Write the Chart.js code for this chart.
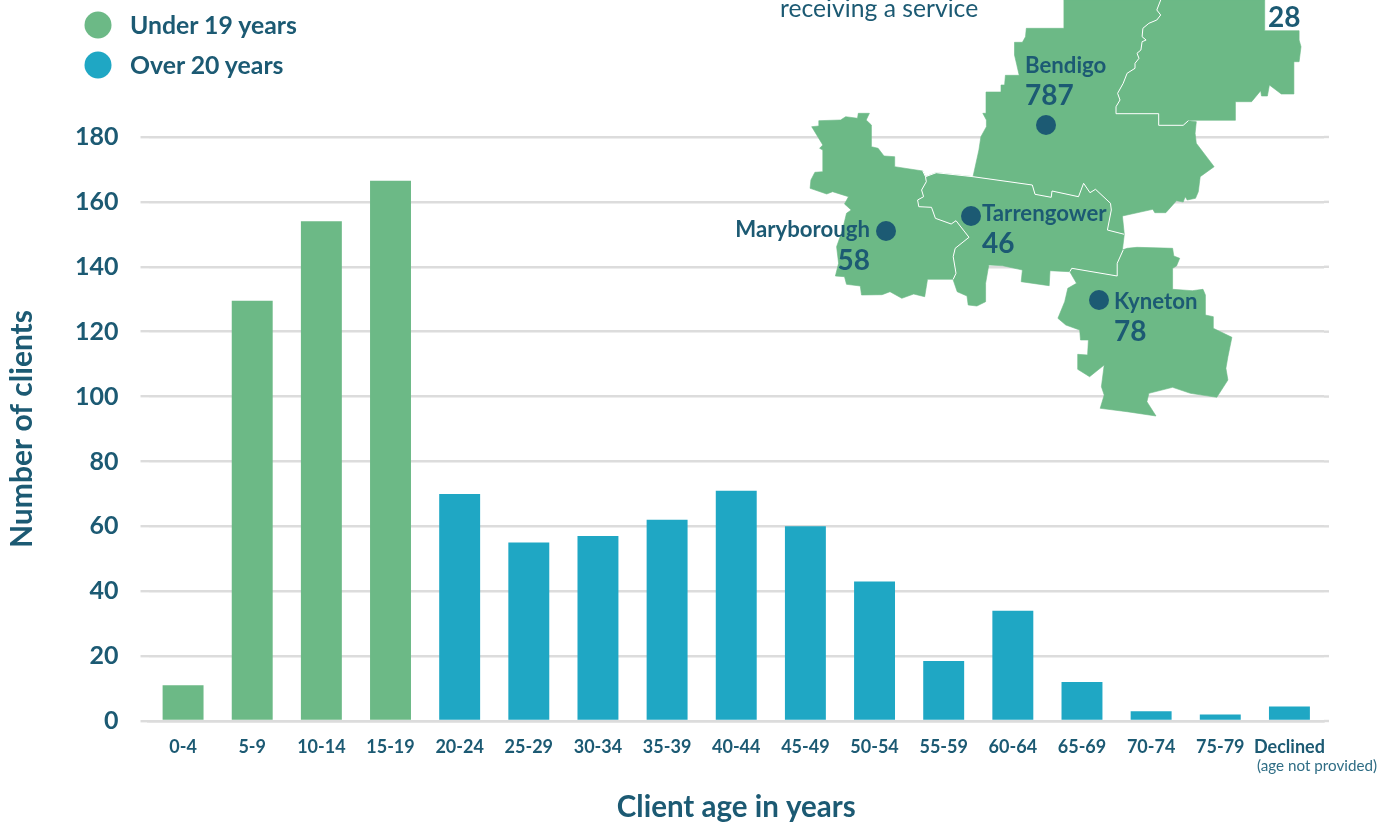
<!DOCTYPE html>
<html>
<head>
<meta charset="utf-8">
<script src="https://cdn.jsdelivr.net/npm/chart.js@4"></script>
<style>
html,body{margin:0;padding:0;background:#fff;overflow:hidden}
#wrap{position:relative;width:1394px;height:825px}
#c{position:absolute;left:0;top:0}
#overlay{position:absolute;left:0;top:0;pointer-events:none}
text{font-family:Lato,sans-serif;fill:#1c5a73}
</style>
</head>
<body>
<div id="wrap">
<canvas id="c" width="1394" height="825"></canvas>
<svg id="overlay" width="1394" height="825" viewBox="0 0 1394 825"></svg>
</div>
<script>
const categories = ['0-4','5-9','10-14','15-19','20-24','25-29','30-34','35-39','40-44','45-49','50-54','55-59','60-64','65-69','70-74','75-79','Declined'];
const under19Values = [11,129.5,154,166.5,null,null,null,null,null,null,null,null,null,null,null,null,null];
const over20Values = [null,null,null,null,70,55,57,62,71,60,43,18.5,34,12,3,2,4.5];
const seriesNames = ['Under 19 years','Over 20 years'];
const seriesColors = ['#6cb986','#1fa7c4'];
const yAxisTitle = 'Number of clients';
const xAxisTitle = 'Client age in years';
const ink = '#1c5a73';
const gridColor = '#dcdcdc';
const fontFamily = 'Lato, sans-serif';

// Map of service regions (decoration over the plot), traced outlines.
const mapShapes = [
 '870,0 870,85 775,85 773,110 765,127 745,127 745,165 757,226 722,226 720,255 711,255 711,276 673,276 673,340 665,340 674,360 674,380 660,410 655,450 640,530 790,555 797,583 838,592 840,573 907,590 920,550 936,578 950,568 988,610 990,630 980,690 1023,703 1018,648 1095,628 1100,638 1128,638 1155,602 1172,606 1177,590 1182,600 1203,595 1210,575 1215,530 1250,500 1205,430 1202,400 1205,365 1185,362 1172,376 1110,376 1110,341 1002,341 1002,320 1012,300 1006,280 1020,250 1030,220 1050,205 1050,190 1060,175 1055,160 1065,150 1068,125 1078,120 1068,110 1070,85 1085,70 1105,60 1115,45 1105,30 1115,0',
 '1115,0 1378,0 1378,92 1465,92 1465,120 1470,140 1465,185 1452,185 1452,282 1420,282 1390,255 1385,288 1370,288 1368,272 1345,305 1304,305 1304,361 1185,361 1172,376 1110,376 1110,341 1002,341 1002,320 1012,300 1006,280 1020,250 1030,220 1050,205 1050,190 1060,175 1055,160 1065,150 1068,125 1078,120 1068,110 1070,85 1085,70 1105,60 1115,45 1105,30',
 '350,340 378,340 370,360 383,375 383,440 400,445 415,468 442,470 442,500 513,513 520,530 522,545 510,570 515,590 500,600 503,620 535,622 545,655 585,672 597,662 630,712 595,745 590,770 597,820 590,838 525,838 518,890 490,882 460,895 430,875 410,884 358,885 355,858 320,853 315,830 292,828 300,790 295,740 310,690 320,640 332,630 315,612 325,590 285,575 270,582 228,565 230,540 240,517 260,515 260,450 252,445 260,435 232,380 250,378 250,362 305,360 318,350 348,355',
 '520,530 547,518 640,530 790,555 797,583 838,592 840,573 907,590 920,550 936,578 950,568 988,610 990,630 980,690 1023,703 1018,750 1005,790 1005,828 890,805 885,815 835,812 833,857 762,845 765,810 715,797 680,795 672,850 672,905 650,918 628,915 625,888 600,875 590,840 597,820 590,770 595,745 630,712 597,662 585,672 545,655 535,622 503,620 500,600 515,590 510,570 522,545',
 '1055,742 1145,745 1148,768 1163,775 1155,798 1145,805 1145,868 1195,872 1222,868 1228,885 1228,945 1248,950 1248,985 1295,1012 1285,1070 1280,1105 1285,1140 1257,1192 1190,1180 1145,1162 1085,1180 1080,1205 1103,1248 1030,1235 962,1225 972,1185 965,1160 972,1095 935,1130 905,1108 905,1063 930,1065 932,1020 912,1020 910,990 875,975 855,955 872,905 880,865 902,850 885,815 890,805 1005,828 1005,790 1018,750 1030,745'
];
const mapBorders = [
 '513,513 520,530 522,545 510,570 515,590 500,600 503,620 535,622 545,655 585,672 597,662 630,712 595,745 590,770 597,820 590,838',
 '520,530 547,518 640,530 790,555 797,583 838,592 840,573 907,590 920,550 936,578 950,568 988,610 990,630 980,690 1023,703',
 '1020,750 1005,790 1005,828 890,805 885,815',
 '1185,362 1172,376 1110,376 1110,341 1002,341 1002,320 1012,300 1006,280 1020,250 1030,220 1050,205 1050,190 1060,175 1055,160 1065,150 1068,125 1078,120 1068,110 1070,85 1085,70 1105,60 1115,45 1105,30 1115,0'
];
const regionNames = ['Bendigo','Maryborough','Tarrengower','Kyneton'];
const regionCounts = ['787','58','46','78'];
const regionNameAnchors = ['start','end','start','start'];
const regionNameX = [1025,870,982,1114];
const regionNameY = [73,237,221,309];
const regionCountX = [1025,870,982,1114];
const regionCountY = [105,270,253,341];
const regionDotX = [1046,886,971,1099];
const regionDotY = [125,231,216,300];

const SVGNS = 'http://www.w3.org/2000/svg';
const svg = document.getElementById('overlay');
function el(name, attrs, txt){
  const n = document.createElementNS(SVGNS, name);
  for (const k in attrs) n.setAttribute(k, attrs[k]);
  if (txt !== undefined) n.textContent = txt;
  svg.appendChild(n);
  return n;
}
function mapPts(s){
  return s.split(' ').map(p=>{const [x,y]=p.split(',').map(Number);return (720+x/2.53).toFixed(1)+','+(y/3).toFixed(1);}).join(' ');
}
mapShapes.forEach(s=>el('polygon',{points:mapPts(s),fill:'#6cb986',stroke:'#6cb986','stroke-width':0.6}));
mapBorders.forEach(s=>el('polyline',{points:mapPts(s),fill:'none',stroke:'#ffffff','stroke-width':1}));
regionNames.forEach((name,i)=>{
  el('circle',{cx:regionDotX[i],cy:regionDotY[i],r:10,style:'fill:'+ink});
  el('text',{x:regionNameX[i],y:regionNameY[i],'text-anchor':regionNameAnchors[i],'font-size':22.2,'font-weight':700},name);
  el('text',{x:regionCountX[i],y:regionCountY[i],'text-anchor':regionNameAnchors[i],'font-size':28,'font-weight':700},regionCounts[i]);
});
el('text',{x:1268,y:27,'font-size':28,'font-weight':700},'28');
el('text',{x:780,y:17,'font-size':24.7},'receiving a service');
el('text',{x:1257,y:771,'font-size':15.2,style:'fill:#2f6d85'},'(age not provided)');

// Legend built from the series
seriesNames.forEach((name,i)=>{
  const y = 25+i*40;
  el('circle',{cx:98,cy:y,r:13.5,style:'fill:'+seriesColors[i]});
  el('text',{x:130,y:y+9,'font-size':24.8,'font-weight':700},name);
});

const gridExtend = {
  id:'gridExtend',
  beforeDatasetsDraw(chart){
    const {ctx,chartArea,scales} = chart;
    ctx.save();
    ctx.strokeStyle = gridColor;
    ctx.lineWidth = 2.4;
    scales.y.ticks.forEach(t=>{
      const y = scales.y.getPixelForValue(t.value);
      ctx.beginPath();
      ctx.moveTo(chartArea.right,y);
      ctx.lineTo(1329,y);
      ctx.stroke();
    });
    ctx.restore();
  }
};

new Chart(document.getElementById('c'),{
  type:'bar',
  data:{
    labels:categories,
    datasets:[
      {label:seriesNames[0],data:under19Values,backgroundColor:seriesColors[0],categoryPercentage:1,barPercentage:0.592},
      {label:seriesNames[1],data:over20Values,backgroundColor:seriesColors[1],categoryPercentage:1,barPercentage:0.592}
    ]
  },
  plugins:[gridExtend],
  options:{
    responsive:false,
    animation:false,
    layout:{padding:{top:137,right:70,left:0,bottom:0}},
    plugins:{legend:{display:false},tooltip:{enabled:false}},
    scales:{
      x:{
        stacked:true,
        grid:{display:false},
        border:{display:true,color:gridColor,width:2.4,z:1},
        ticks:{color:ink,font:{family:fontFamily,size:18,weight:'700'},padding:7,maxRotation:0,minRotation:0,autoSkip:false},
        title:{display:true,text:xAxisTitle,color:ink,font:{family:fontFamily,size:29.5,weight:'700'},padding:{top:28,bottom:0}},
        afterFit(s){s.height=104;}
      },
      y:{
        stacked:true,
        min:0,max:180,
        grid:{color:gridColor,lineWidth:2.4,tickLength:8,drawTicks:true},
        border:{display:false},
        ticks:{stepSize:20,color:ink,font:{family:fontFamily,size:25,weight:'700'},padding:22},
        title:{display:true,text:yAxisTitle,color:ink,font:{family:fontFamily,size:30,weight:'700'},padding:{top:4,bottom:0}},
        afterFit(s){s.width=148.5;}
      }
    }
  }
});
</script>
</body>
</html>
